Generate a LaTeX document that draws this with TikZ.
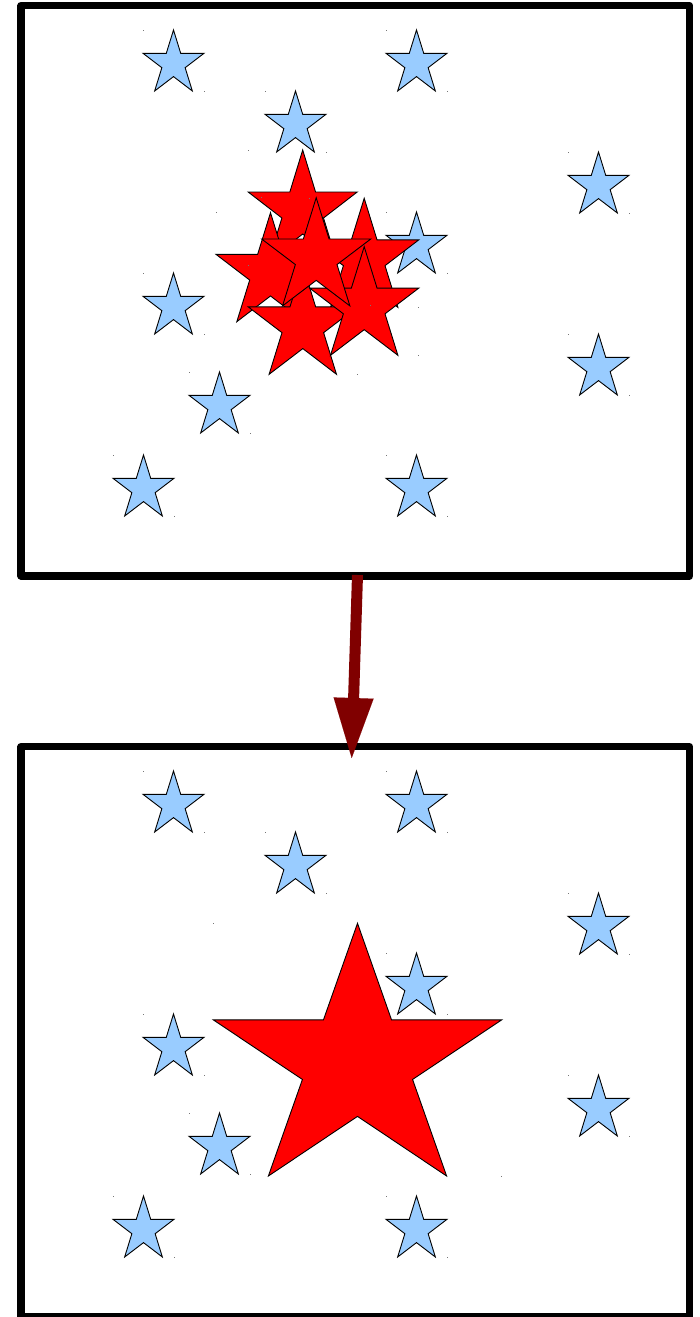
\documentclass[tikz,border=0pt]{standalone}
\usetikzlibrary{arrows.meta}
\definecolor{starblue}{HTML}{99CCFF}
\definecolor{starred}{HTML}{FF0000}
\definecolor{arrowred}{HTML}{800000}
\definecolor{dotgray}{HTML}{777777}
\tikzset{
  panel/.style={draw=black, line width=7.5pt, line join=round, rectangle, inner sep=0pt, outer sep=0pt,
    minimum width=668.3pt, minimum height=570.5pt, anchor=north west},
  bluestar/.style={fill=starblue, draw=black, line width=0.9pt, line join=miter},
  redstar/.style={fill=starred, draw=black, line width=0.9pt, line join=miter},
  flowarrow/.style={draw=arrowred, line width=11pt, -{Triangle[length=60pt,width=40pt,line width=0.01pt]}},
}
\newcommand\drawlostar[5]{%
  \draw[#1, shift={(#2,#3)}, xscale=#4, yscale=#5]
    (0.5,0) -- (0.618,0.382) -- (1,0.382) -- (0.691,0.618) -- (0.809,1)
    -- (0.5,0.764) -- (0.191,1) -- (0.309,0.618) -- (0,0.382) -- (0.382,0.382) -- cycle;
  \fill[dotgray] (#2-0.5,#3-0.5) rectangle ++(1,1);
  \fill[dotgray] ({#2+#4-0.5},{#3+#5-0.5}) rectangle ++(1,1);
}
\newcommand\bluefield[1]{% #1 vertical offset
  \drawlostar{bluestar}{143}{30+#1}{61}{61}
  \drawlostar{bluestar}{386}{30+#1}{61}{61}
  \drawlostar{bluestar}{265}{91+#1}{61}{61}
  \drawlostar{bluestar}{568}{152+#1}{61}{61}
  \drawlostar{bluestar}{386}{212+#1}{61}{61}
  \drawlostar{bluestar}{143}{273+#1}{61}{61}
  \drawlostar{bluestar}{568}{334+#1}{61}{61}
  \drawlostar{bluestar}{189}{372+#1}{61}{61}
  \drawlostar{bluestar}{113}{455+#1}{61}{61}
  \drawlostar{bluestar}{386}{455+#1}{61}{61}
}
\begin{document}
\begin{tikzpicture}[x=1pt, y=-1pt]
  \useasboundingbox (0,0) rectangle (699,1317);
  % panels
  \node[panel] (top) at (21.2,5.5) {};
  \node[panel] (bottom) at (21.2,746.7) {};
  % top panel stars
  \bluefield{0}
  \drawlostar{redstar}{248.2}{150}{109}{110}
  \drawlostar{redstar}{216}{212.7}{109}{109}
  \drawlostar{redstar}{309.7}{198.3}{109}{109}
  \drawlostar{redstar}{248.3}{265.3}{109}{109}
  \drawlostar{redstar}{309.7}{246.7}{109}{108.6}
  \drawlostar{redstar}{261.7}{197.7}{109}{108.2}
  % bottom panel stars
  \bluefield{741}
  \drawlostar{redstar}{213.3}{923.3}{288.4}{252.7}
  % arrow
  \coordinate (arrowstart) at (357.5,575);
  \coordinate (arrowend) at (351.7,758);
  \draw[flowarrow] (arrowstart) -- (arrowend);
\end{tikzpicture}
\end{document}
